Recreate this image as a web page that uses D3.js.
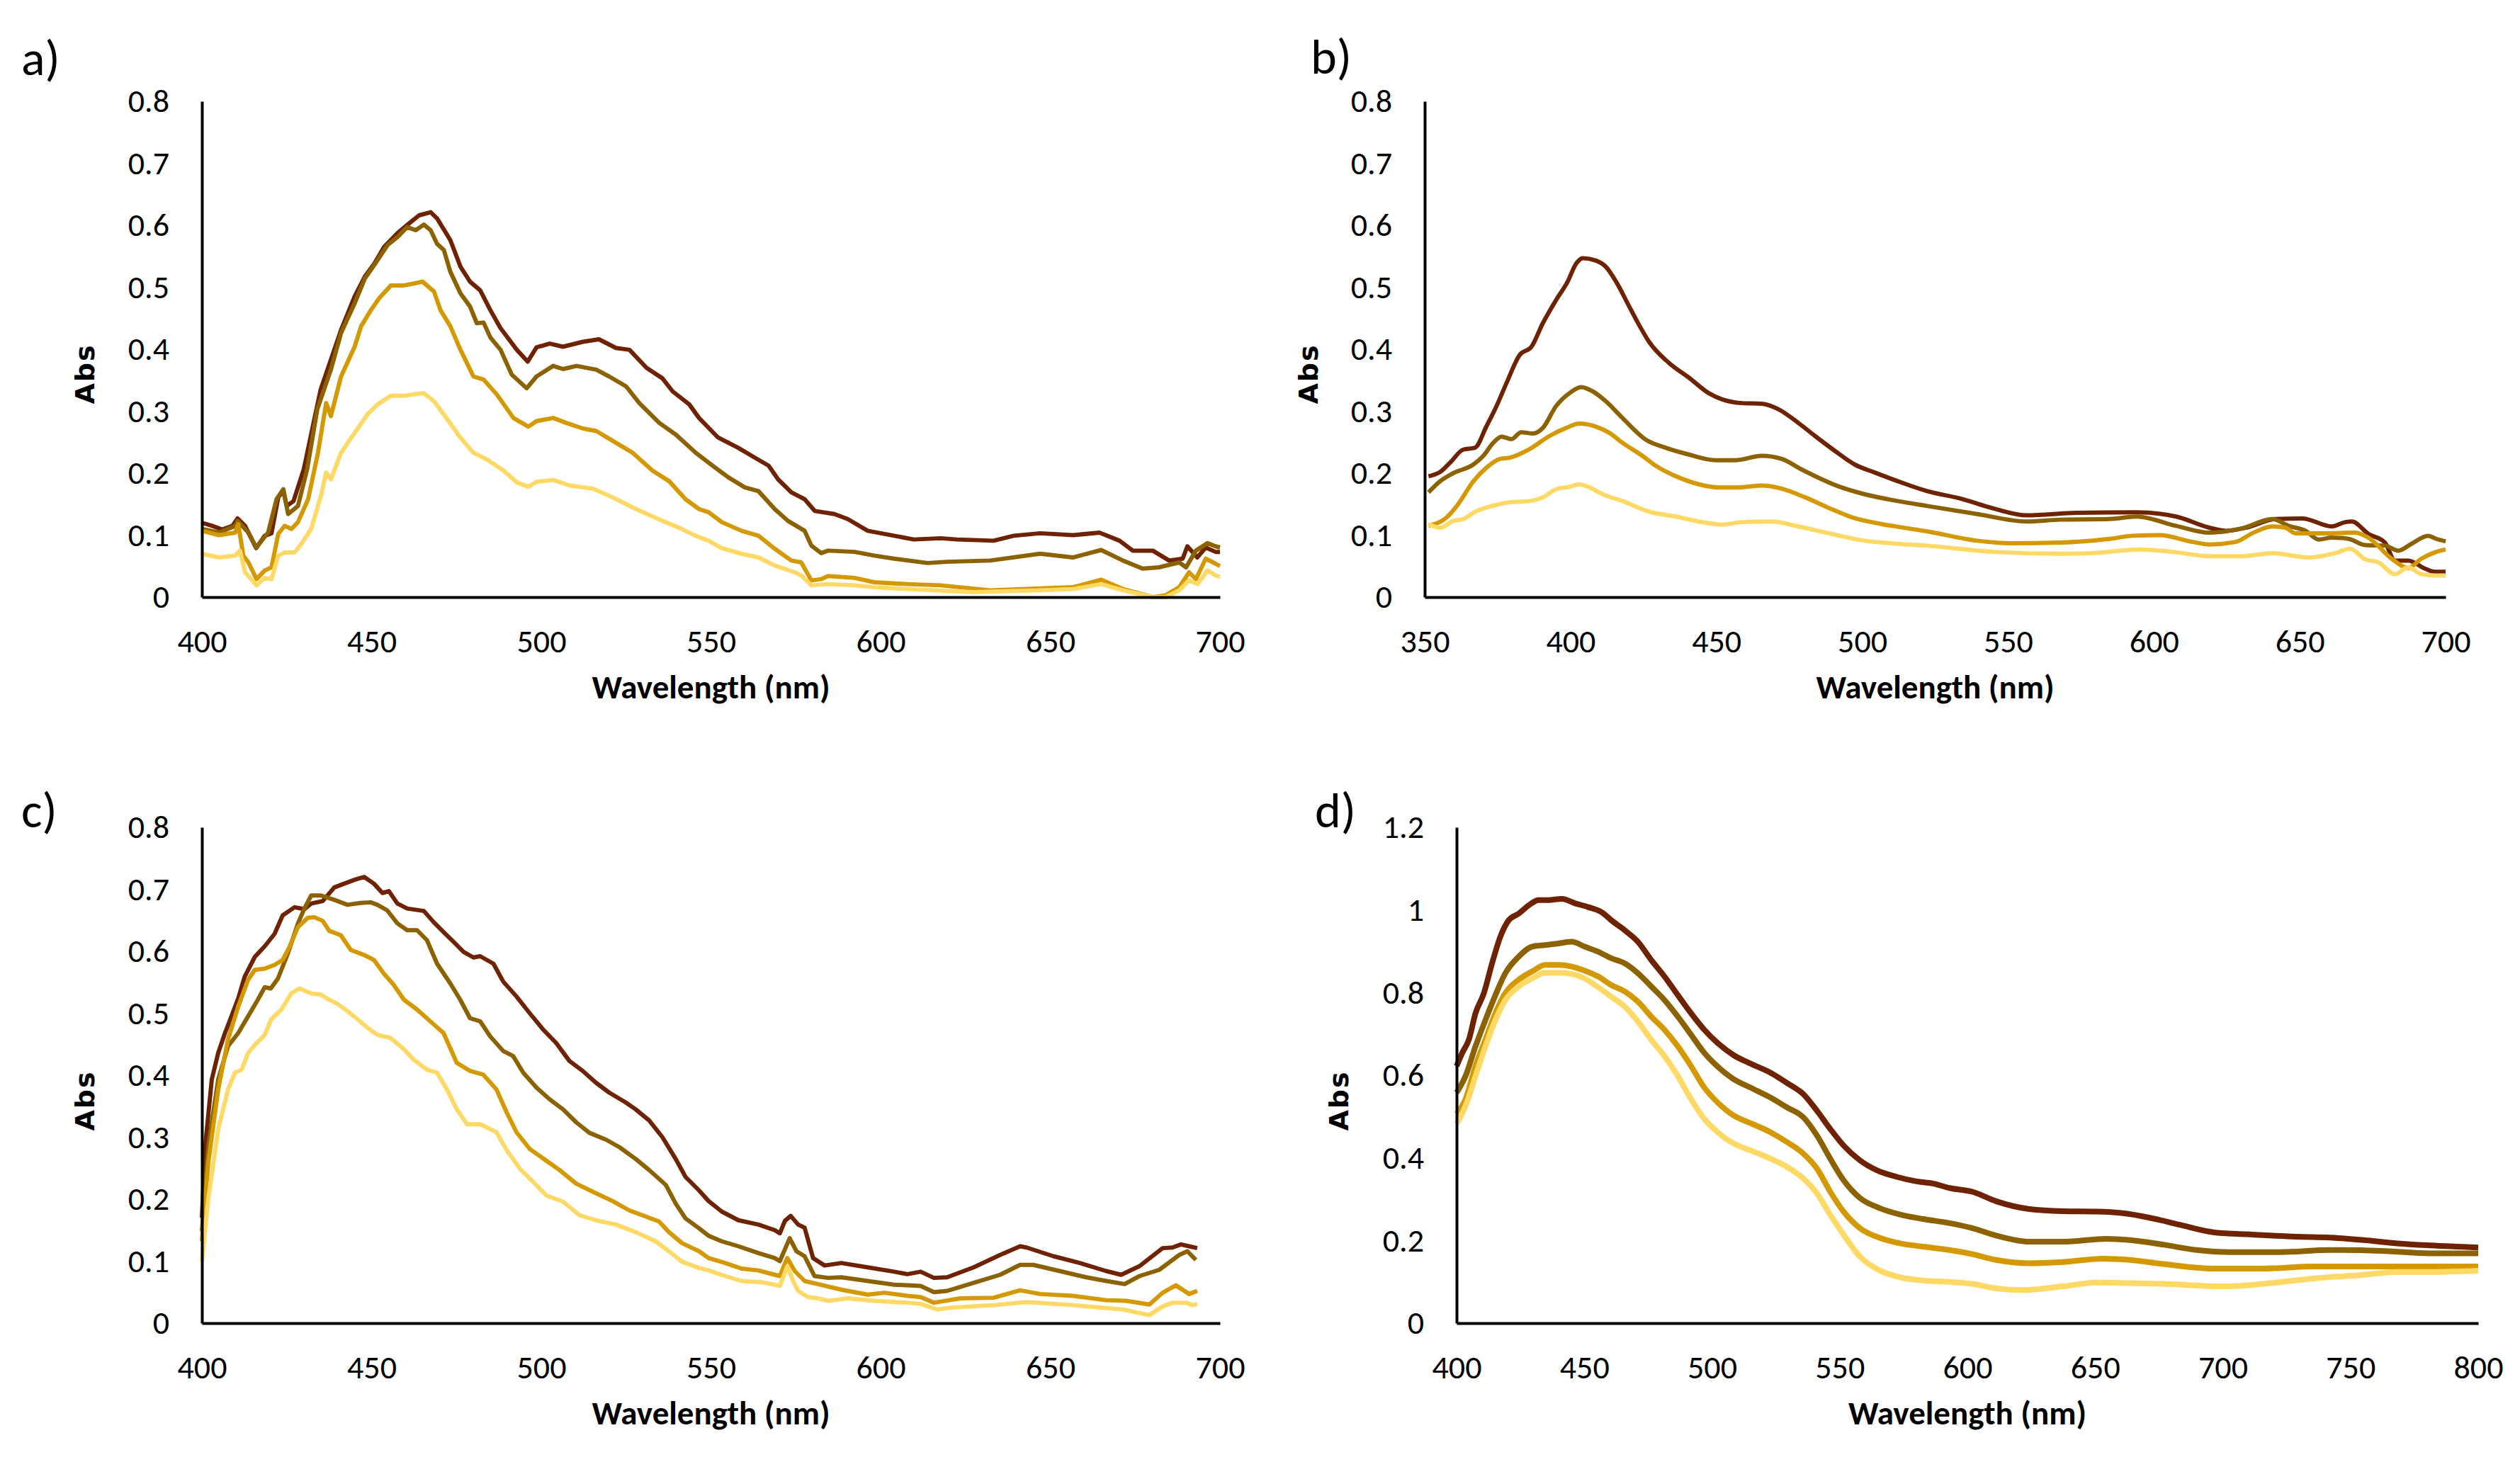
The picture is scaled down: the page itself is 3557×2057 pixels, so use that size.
<!DOCTYPE html>
<html><head><meta charset="utf-8">
<script src="https://cdn.jsdelivr.net/npm/d3@7"></script>
<style>html,body{margin:0;padding:0;background:#fff}</style>
</head><body><svg id="chart" width="3557" height="2057"></svg>
<script>
// ---- data (wavelength nm, absorbance) ----
const seriesColors = ["#6E2200", "#8C6200", "#D49800", "#FFD966"];

const xTicksA = [400, 450, 500, 550, 600, 650, 700];
const xTicksB = [350, 400, 450, 500, 550, 600, 650, 700];
const xTicksD = [400, 450, 500, 550, 600, 650, 700, 750, 800];
const yTicks08 = [0, 0.1, 0.2, 0.3, 0.4, 0.5, 0.6, 0.7, 0.8];
const yTicks12 = [0, 0.2, 0.4, 0.6, 0.8, 1, 1.2];
const panelLabels = ["a)", "b)", "c)", "d)"];
const xTitle = "Wavelength (nm)";
const yTitle = "Abs";

const a1 = [[400,0.12],[403,0.115],[406,0.109],[409,0.115],[410.5,0.127],[412.7,0.115],[416,0.079],[418.5,0.099],[420.5,0.103],[422.5,0.161],[424,0.171],[425,0.147],[427,0.155],[430,0.206],[432.7,0.276],[435,0.335],[438,0.383],[441,0.431],[445,0.485],[448,0.517],[450.8,0.538],[453.7,0.565],[457.6,0.587],[461.5,0.605],[464,0.616],[467.4,0.621],[469.3,0.611],[473.2,0.576],[476.2,0.533],[479,0.509],[482,0.495],[485,0.463],[488,0.434],[492.8,0.399],[496,0.38],[498.6,0.403],[502.5,0.409],[506.4,0.404],[512.3,0.412],[517,0.416],[522,0.402],[526,0.399],[531,0.37],[535.7,0.353],[538.7,0.332],[543.6,0.311],[546.5,0.289],[552,0.258],[558,0.241],[562,0.228],[567,0.212],[569.8,0.19],[573.7,0.169],[577.6,0.158],[580.6,0.139],[586.4,0.134],[590.3,0.126],[596.2,0.107],[604,0.099],[609.8,0.093],[617.7,0.095],[622.5,0.093],[633.3,0.091],[639.2,0.099],[647,0.103],[656.7,0.1],[664.5,0.104],[670.4,0.091],[674.3,0.075],[680.2,0.075],[685,0.059],[689,0.062],[690.4,0.082],[693.3,0.064],[695.8,0.08],[698.7,0.073],[700,0.073]];
const a2 = [[400,0.11],[405,0.104],[409.8,0.115],[410.5,0.123],[413.7,0.104],[416,0.08],[419.5,0.104],[422,0.158],[424,0.174],[425.4,0.134],[428.3,0.147],[431,0.206],[434,0.303],[438,0.367],[441,0.426],[445,0.474],[448,0.514],[450.8,0.536],[454.7,0.568],[457.6,0.581],[460.5,0.597],[463,0.592],[465.4,0.601],[467.4,0.592],[469.3,0.57],[471.3,0.56],[473.2,0.525],[476.2,0.49],[479,0.469],[481,0.442],[483,0.443],[485,0.419],[488,0.399],[491.3,0.359],[495.7,0.337],[498.6,0.356],[503.5,0.373],[506.4,0.368],[510.4,0.373],[516.2,0.367],[520,0.356],[525,0.34],[528.9,0.313],[534.8,0.281],[539.7,0.262],[545.5,0.233],[549.3,0.217],[555.2,0.193],[560,0.177],[564,0.171],[568.8,0.142],[572.7,0.123],[577.6,0.107],[579.6,0.083],[582.5,0.071],[584.5,0.075],[592.3,0.073],[598.1,0.067],[604,0.062],[613.8,0.055],[619.6,0.057],[632.3,0.059],[647,0.07],[656.7,0.064],[665,0.076],[671.4,0.059],[677.2,0.046],[682,0.048],[688,0.056],[690,0.048],[692.9,0.075],[696.3,0.087],[698.7,0.082],[700,0.08]];
const a3 = [[400,0.107],[405,0.1],[409.8,0.104],[410.7,0.118],[412.2,0.067],[413.7,0.056],[416.1,0.029],[418.5,0.043],[420.5,0.048],[422.5,0.102],[424.4,0.115],[426.4,0.11],[428.3,0.121],[431.3,0.158],[434.2,0.233],[436.6,0.313],[438,0.292],[441,0.356],[445,0.404],[446.9,0.437],[449.8,0.463],[452.2,0.482],[455.7,0.503],[459.6,0.503],[462.5,0.506],[465,0.509],[468.4,0.493],[470.3,0.463],[473.2,0.437],[476.2,0.399],[480,0.356],[483,0.351],[486.9,0.327],[491.8,0.289],[496.2,0.275],[498.6,0.284],[503.5,0.289],[507.4,0.281],[512.3,0.272],[516.2,0.268],[522,0.249],[526.9,0.233],[532.8,0.204],[537.7,0.187],[542.5,0.158],[546.5,0.142],[549.3,0.137],[553.2,0.121],[559,0.107],[564,0.099],[568.8,0.078],[573.7,0.059],[576.6,0.056],[579.6,0.027],[582.5,0.029],[584.5,0.034],[592.3,0.031],[598.1,0.024],[607.9,0.021],[617.7,0.019],[632.3,0.011],[647,0.014],[656.7,0.016],[665,0.028],[671.4,0.013],[680.2,0.0],[684,0.003],[688,0.016],[690.9,0.04],[692.9,0.029],[695.8,0.062],[698.7,0.054],[700,0.05]];
const a4 = [[400,0.07],[405,0.064],[409.8,0.067],[411.2,0.075],[412.7,0.04],[416.1,0.019],[418.5,0.031],[420.5,0.029],[422.5,0.067],[424.4,0.072],[427.3,0.072],[429.3,0.086],[432.2,0.11],[435.2,0.166],[436.6,0.201],[438,0.19],[441,0.233],[445,0.265],[448.8,0.295],[451.8,0.311],[455.7,0.325],[459.6,0.325],[463.5,0.328],[465.4,0.329],[468.4,0.316],[472.3,0.287],[476.2,0.257],[480,0.233],[484,0.222],[488.9,0.204],[492.8,0.185],[496.2,0.178],[498.6,0.186],[503.5,0.189],[508.4,0.18],[515.2,0.175],[521,0.161],[527.9,0.142],[535.7,0.123],[540.6,0.112],[545.5,0.099],[549.3,0.091],[553.2,0.079],[559,0.07],[564,0.064],[568.8,0.051],[574.7,0.04],[576.6,0.035],[579.6,0.019],[584.5,0.021],[592.3,0.019],[598.1,0.016],[607.9,0.013],[627.4,0.008],[647,0.011],[656.7,0.013],[665,0.021],[671.4,0.011],[680.2,0.0],[684,0.0],[688,0.011],[690.9,0.027],[693.4,0.021],[696.3,0.043],[698.7,0.035],[700,0.033]];

const b1 = [[351.3,0.195],[355.3,0.202],[358.7,0.217],[363.2,0.238],[367.2,0.241],[371.2,0.276],[374.6,0.308],[378,0.345],[382.6,0.391],[386.6,0.404],[390.5,0.442],[395,0.479],[399,0.509],[401.9,0.538],[404.2,0.547],[408.7,0.543],[412.1,0.533],[415.6,0.509],[420.1,0.469],[423.5,0.439],[426.9,0.412],[433.7,0.378],[440.6,0.354],[447.4,0.329],[452,0.319],[458.8,0.313],[465.6,0.312],[471.3,0.303],[478.1,0.281],[483.8,0.26],[490.6,0.236],[497.4,0.214],[504.3,0.201],[512.2,0.187],[522.3,0.171],[533.7,0.159],[545,0.143],[556.4,0.132],[573.5,0.136],[594,0.137],[607.6,0.13],[619,0.112],[624.6,0.107],[631.5,0.112],[641.7,0.126],[650.8,0.127],[661,0.114],[665.6,0.121],[667.9,0.122],[673.5,0.102],[679.2,0.088],[682.6,0.059],[687.2,0.059],[692.9,0.046],[696.3,0.041],[700,0.041]];
const b2 = [[351.3,0.169],[355.3,0.187],[359.8,0.2],[366.7,0.214],[370.1,0.228],[373.5,0.249],[376.3,0.259],[379.7,0.255],[383.1,0.266],[387.1,0.264],[390.5,0.273],[395,0.308],[399.6,0.329],[403.6,0.339],[407.6,0.332],[412.1,0.316],[417.8,0.289],[425.8,0.254],[432.6,0.241],[440.6,0.23],[449.7,0.221],[456.5,0.221],[465.6,0.228],[472.4,0.223],[479.2,0.206],[491.7,0.179],[500.8,0.166],[512.2,0.155],[522.3,0.147],[539.4,0.134],[556.4,0.122],[567.8,0.125],[584.8,0.126],[594,0.13],[607.6,0.115],[619,0.104],[630.3,0.111],[640.6,0.126],[646.2,0.115],[652,0.107],[656.5,0.093],[661,0.096],[666.7,0.094],[672.4,0.084],[679.2,0.083],[683.8,0.075],[688.3,0.086],[694,0.099],[696.8,0.094],[700,0.09]];
const b3 = [[351.3,0.115],[357.6,0.129],[361,0.147],[366.7,0.187],[371.2,0.209],[375.8,0.223],[379.2,0.225],[386,0.239],[392.8,0.26],[398.5,0.273],[403,0.28],[408.7,0.275],[413.3,0.265],[417.8,0.249],[424.6,0.228],[429.2,0.212],[437.1,0.193],[444,0.182],[450.8,0.177],[457.6,0.177],[465.6,0.18],[472.4,0.175],[480.4,0.161],[489.5,0.142],[496.3,0.129],[506.5,0.118],[515.6,0.111],[522.3,0.106],[539.4,0.091],[550.7,0.087],[567.8,0.088],[584.8,0.094],[592.8,0.099],[601.9,0.1],[613.3,0.089],[619,0.085],[628,0.089],[633.7,0.103],[640.6,0.114],[645.1,0.112],[648.5,0.103],[658.8,0.103],[669,0.104],[673.5,0.096],[681.5,0.062],[687.2,0.047],[691.7,0.062],[696.8,0.073],[700,0.077]];
const b4 = [[351.3,0.118],[355.3,0.112],[359.8,0.123],[363.2,0.126],[367.8,0.139],[372.3,0.146],[379.2,0.153],[386,0.155],[390.5,0.161],[395,0.174],[399.6,0.178],[403,0.182],[406.5,0.177],[411,0.166],[417.8,0.155],[426.9,0.138],[436,0.13],[445.1,0.121],[451.9,0.117],[458.8,0.121],[469,0.122],[478.1,0.114],[489.5,0.102],[500.8,0.091],[512.2,0.086],[522.3,0.083],[545,0.073],[567.8,0.07],[579.2,0.071],[595,0.077],[606.5,0.073],[619,0.066],[630.3,0.066],[640.6,0.071],[653.1,0.064],[662.2,0.071],[667.3,0.078],[672.4,0.061],[677,0.056],[682.6,0.037],[687.2,0.048],[691.7,0.037],[696.3,0.035],[700,0.035]];

const c1 = [[400,0.17],[401,0.287],[402.9,0.393],[404.8,0.436],[406.8,0.468],[408.7,0.495],[410.7,0.524],[412.6,0.559],[415.6,0.591],[418.5,0.608],[421.4,0.628],[423.8,0.658],[427.3,0.671],[430.2,0.668],[432.2,0.677],[435.6,0.681],[439,0.703],[441.9,0.709],[444.8,0.715],[447.8,0.72],[450.7,0.709],[453.2,0.694],[455.1,0.697],[457.6,0.677],[460.5,0.669],[465.4,0.665],[468.3,0.647],[471.2,0.631],[474.2,0.615],[477.1,0.599],[480,0.59],[482,0.592],[485.9,0.58],[488.8,0.551],[492.7,0.527],[496.6,0.5],[500.5,0.474],[504.4,0.452],[508.3,0.423],[512.2,0.407],[516.1,0.388],[520,0.372],[524.9,0.356],[527.8,0.345],[531.8,0.327],[535.7,0.3],[539.6,0.265],[542.5,0.236],[546.5,0.214],[549.3,0.197],[553.2,0.18],[558.1,0.166],[564,0.159],[568.8,0.15],[570.3,0.145],[571.8,0.165],[573.5,0.173],[575.7,0.159],[577.6,0.154],[580.1,0.105],[583.5,0.093],[588.4,0.097],[596.2,0.09],[604,0.083],[607.9,0.079],[611.8,0.083],[615.7,0.073],[619.6,0.074],[627.4,0.09],[635.2,0.11],[641.1,0.124],[643,0.122],[650.9,0.108],[658.7,0.097],[666.5,0.084],[670.9,0.078],[676.3,0.092],[683.1,0.121],[686,0.122],[688.5,0.127],[690.9,0.124],[693.3,0.121]];
const c2 = [[400,0.148],[401.9,0.287],[404.8,0.393],[407.7,0.447],[410.7,0.468],[413.6,0.495],[416.5,0.522],[418.5,0.542],[420.3,0.54],[422.4,0.556],[425.3,0.596],[428.3,0.645],[430.2,0.669],[432.2,0.69],[435.1,0.69],[439,0.683],[442.9,0.675],[446.8,0.678],[449.7,0.679],[451.7,0.675],[454.6,0.666],[457.6,0.645],[460.5,0.634],[463.4,0.634],[466.3,0.618],[469.3,0.58],[473.2,0.548],[476.1,0.522],[479,0.492],[482,0.487],[484.9,0.463],[488.8,0.439],[491.7,0.431],[494.7,0.404],[498.6,0.38],[502.5,0.361],[506.4,0.345],[510.3,0.324],[514.2,0.307],[519.1,0.296],[523,0.284],[527.8,0.265],[531.8,0.247],[536.7,0.223],[539.6,0.193],[542.5,0.169],[546.5,0.153],[549.3,0.141],[553.2,0.132],[558.1,0.124],[564,0.113],[568.8,0.105],[570.3,0.1],[573.2,0.137],[575.2,0.116],[577.6,0.108],[580.5,0.076],[584.5,0.073],[588.4,0.074],[596.2,0.068],[604,0.062],[611.8,0.06],[615.7,0.05],[619.6,0.052],[627.4,0.065],[635.2,0.078],[641.1,0.094],[645,0.094],[652.8,0.084],[660.6,0.074],[666.5,0.068],[671.9,0.063],[676.3,0.076],[682.1,0.086],[688,0.11],[690.4,0.116],[692.9,0.102]];
const c3 = [[400,0.132],[401.9,0.26],[404.8,0.377],[407.7,0.458],[410.7,0.511],[413.6,0.554],[415.6,0.57],[418.5,0.572],[421.4,0.578],[423.8,0.586],[425.8,0.607],[428.3,0.639],[431.2,0.654],[433.1,0.655],[435.6,0.649],[437.5,0.633],[440.9,0.626],[443.9,0.602],[447.8,0.594],[450.7,0.586],[453.6,0.564],[456.5,0.546],[459.5,0.522],[463.4,0.506],[467.3,0.487],[471.2,0.468],[475.1,0.42],[479,0.407],[482.9,0.401],[486.8,0.377],[489.8,0.34],[492.7,0.308],[496.6,0.281],[501.5,0.262],[505.4,0.247],[510.3,0.225],[515.2,0.212],[521,0.197],[525.9,0.182],[530.8,0.172],[534.7,0.164],[537.6,0.147],[541.5,0.129],[546.5,0.116],[549.3,0.105],[554.2,0.097],[559,0.088],[564,0.085],[568.8,0.078],[570.3,0.076],[572.5,0.105],[574.7,0.084],[577.6,0.068],[581.5,0.063],[588.4,0.054],[596.2,0.046],[601.1,0.049],[607.9,0.044],[611.8,0.042],[615.7,0.033],[623.5,0.04],[633.3,0.041],[641.1,0.053],[647,0.047],[656.7,0.044],[666.5,0.037],[672.4,0.036],[679.2,0.03],[683.1,0.049],[687,0.061],[690.9,0.047],[693.3,0.052]];
const c4 = [[400,0.1],[401.9,0.201],[404.8,0.313],[407.7,0.377],[409.7,0.404],[411.7,0.409],[413.6,0.436],[415.6,0.449],[418.5,0.465],[420.4,0.49],[423.4,0.506],[426.3,0.532],[428.7,0.54],[432.2,0.532],[435.1,0.53],[437.1,0.523],[440,0.515],[443,0.503],[445.9,0.49],[448.9,0.476],[451.8,0.465],[455.6,0.46],[459.5,0.442],[462.4,0.425],[466.3,0.409],[469.3,0.404],[472.2,0.377],[475.1,0.345],[478.1,0.321],[482,0.321],[486.8,0.308],[489.8,0.279],[493.7,0.249],[497.6,0.228],[501.5,0.206],[506.4,0.196],[511.3,0.174],[516.1,0.166],[522,0.159],[527.8,0.147],[533.7,0.132],[537.6,0.116],[541.5,0.099],[546.5,0.089],[549.3,0.085],[554.2,0.076],[559,0.068],[564.9,0.066],[568.8,0.062],[570.3,0.06],[572.5,0.092],[574.2,0.068],[575.7,0.052],[578.6,0.042],[581.5,0.04],[584.5,0.036],[590.3,0.04],[598.1,0.036],[607.9,0.033],[611.8,0.031],[616.7,0.022],[620.6,0.025],[633.3,0.029],[643,0.034],[656.7,0.029],[671.4,0.022],[679.2,0.013],[683.1,0.027],[686,0.033],[690,0.033],[691.9,0.029],[693.3,0.031]];

const d1 = [[400,0.622],[402.2,0.654],[404.8,0.686],[407.4,0.75],[410.7,0.799],[413.9,0.871],[417.1,0.935],[420.4,0.975],[424.3,0.991],[428.2,1.011],[432.1,1.024],[436,1.024],[441.2,1.027],[446.4,1.016],[451.5,1.007],[456.7,0.995],[460.6,0.975],[465.8,0.951],[471,0.923],[476.2,0.879],[481.4,0.839],[486.6,0.794],[491.8,0.75],[497,0.71],[502.2,0.678],[508.6,0.648],[515.1,0.628],[522.9,0.606],[529.4,0.581],[535.8,0.554],[541.1,0.514],[546.3,0.47],[551.5,0.43],[557.9,0.394],[564.5,0.37],[572.3,0.354],[580.1,0.343],[586.5,0.338],[593,0.327],[601.9,0.318],[611.2,0.295],[624.3,0.276],[637.4,0.271],[650.5,0.27],[660.9,0.266],[671.4,0.255],[683.2,0.238],[696.3,0.22],[709.4,0.215],[729,0.209],[742.1,0.207],[755.2,0.201],[768.3,0.193],[781.4,0.188],[800,0.183]];
const d2 = [[400,0.558],[403.5,0.598],[407.4,0.67],[411.3,0.734],[415.2,0.794],[419.1,0.847],[424.3,0.887],[429.5,0.911],[434.7,0.915],[439.9,0.919],[445.1,0.923],[450.2,0.911],[455.4,0.899],[460.6,0.883],[465.8,0.871],[471,0.847],[476.2,0.815],[481.4,0.782],[486.6,0.742],[491.8,0.698],[497,0.654],[502.2,0.621],[508.6,0.59],[515.1,0.57],[522.9,0.546],[529.4,0.522],[535.8,0.498],[541.1,0.454],[546.3,0.398],[551.5,0.346],[557.9,0.303],[565.8,0.278],[573.6,0.263],[582.7,0.252],[593,0.242],[601.9,0.23],[611.2,0.212],[624.3,0.197],[637.4,0.197],[654.4,0.204],[663.6,0.201],[676.6,0.19],[689.7,0.177],[702.8,0.172],[722.5,0.172],[742.1,0.177],[761.7,0.175],[781.4,0.169],[800,0.169]];
const d3s = [[400,0.506],[403.5,0.542],[407.4,0.622],[411.3,0.686],[415.2,0.75],[419.1,0.799],[424.3,0.831],[429.5,0.851],[434.7,0.867],[439.9,0.867],[445.1,0.863],[450.2,0.853],[455.4,0.839],[460.6,0.818],[465.8,0.803],[471,0.778],[476.2,0.742],[481.4,0.71],[486.6,0.67],[491.8,0.622],[497,0.57],[502.2,0.534],[508.6,0.502],[515.1,0.484],[522.9,0.462],[529.4,0.438],[535.8,0.41],[541.1,0.374],[546.3,0.318],[551.5,0.27],[557.9,0.23],[565.8,0.206],[573.6,0.193],[582.7,0.185],[593,0.177],[601.9,0.167],[611.2,0.153],[624.3,0.145],[637.4,0.148],[653.1,0.156],[663.6,0.153],[676.6,0.143],[696.3,0.132],[715.9,0.132],[735.5,0.137],[755.2,0.137],[774.8,0.137],[800,0.137]];
const d4 = [[400,0.482],[403.5,0.526],[407.4,0.598],[411.3,0.67],[415.2,0.734],[419.1,0.782],[424.3,0.815],[429.5,0.834],[434.7,0.848],[439.9,0.848],[445.1,0.845],[450.2,0.834],[455.4,0.813],[460.6,0.79],[465.8,0.766],[471,0.73],[476.2,0.686],[481.4,0.646],[486.6,0.598],[491.8,0.542],[497,0.494],[502.2,0.462],[508.6,0.434],[515.1,0.418],[522.9,0.398],[529.4,0.378],[535.8,0.35],[541.1,0.314],[546.3,0.262],[551.5,0.214],[557.9,0.161],[565.8,0.127],[573.6,0.111],[582.7,0.103],[593,0.1],[601.9,0.095],[611.2,0.084],[621.7,0.08],[637.4,0.089],[650.5,0.098],[663.6,0.097],[676.6,0.095],[700.2,0.089],[715.9,0.095],[735.5,0.108],[755.2,0.117],[768.3,0.124],[781.4,0.124],[800,0.127]];

// ---- layout ----
const panels = [
  {label: panelLabels[0], series: [a1, a2, a3, a4], xDomain: [400, 700], yDomain: [0, 0.8], xTicks: xTicksA, yTicks: yTicks08,
   box: {l: 285, r: 1722, t: 143, b: 843}, labelXY: [30, 106], absXY: [120, 528], curve: d3.curveLinear, sw: 6},
  {label: panelLabels[1], series: [b1, b2, b3, b4], xDomain: [350, 700], yDomain: [0, 0.8], xTicks: xTicksB, yTicks: yTicks08,
   box: {l: 2011, r: 3452, t: 143, b: 843}, labelXY: [1850, 104], absXY: [1847, 528], curve: d3.curveMonotoneX, sw: 6},
  {label: panelLabels[2], series: [c1, c2, c3, c4], xDomain: [400, 700], yDomain: [0, 0.8], xTicks: xTicksA, yTicks: yTicks08,
   box: {l: 285, r: 1722, t: 1168, b: 1868}, labelXY: [30, 1168], absXY: [120, 1554], curve: d3.curveLinear, sw: 6},
  {label: panelLabels[3], series: [d1, d2, d3s, d4], xDomain: [400, 800], yDomain: [0, 1.2], xTicks: xTicksD, yTicks: yTicks12,
   box: {l: 2056, r: 3498, t: 1168, b: 1868}, labelXY: [1856, 1168], absXY: [1890, 1554], curve: d3.curveMonotoneX, sw: 8}
];

const svg = d3.select("#chart");
svg.append("rect").attr("width", 3557).attr("height", 2057).attr("fill", "#fff");
const tickFont = "Carlito, Calibri, 'Liberation Sans', Arial, sans-serif";
const fmt = v => String(+v.toFixed(1));

panels.forEach(p => {
  const x = d3.scaleLinear().domain(p.xDomain).range([p.box.l, p.box.r]);
  const y = d3.scaleLinear().domain(p.yDomain).range([p.box.b, p.box.t]);
  const g = svg.append("g");

  const line = d3.line().x(d => x(d[0])).y(d => y(d[1])).curve(p.curve);
  p.series.forEach((s, i) => {
    g.append("path").datum(s).attr("d", line)
      .attr("fill", "none").attr("stroke", seriesColors[i])
      .attr("stroke-width", p.sw).attr("stroke-linejoin", "round").attr("stroke-linecap", "butt");
  });

  const yAx = g.append("g").attr("transform", `translate(${p.box.l},0)`)
    .call(d3.axisLeft(y).tickValues(p.yTicks).tickFormat(fmt).tickSize(0).tickSizeOuter(0).tickPadding(46));
  const xAx = g.append("g").attr("transform", `translate(0,${p.box.b})`)
    .call(d3.axisBottom(x).tickValues(p.xTicks).tickFormat(d3.format("d")).tickSize(0).tickSizeOuter(0).tickPadding(45));
  [yAx, xAx].forEach(a => {
    a.select(".domain").attr("stroke", "#000").attr("stroke-width", 4);
    a.selectAll("text").attr("font-family", tickFont).attr("font-size", 46).attr("fill", "#000");
  });

  g.append("text").attr("x", (p.box.l + p.box.r) / 2).attr("y", p.box.b + 143)
    .attr("text-anchor", "middle").attr("font-family", tickFont).attr("font-weight", "bold")
    .attr("font-size", 47).attr("fill", "#000").text(xTitle);
  g.append("text").attr("transform", `translate(${p.absXY[0]},${p.absXY[1]}) rotate(-90)`)
    .attr("text-anchor", "middle").attr("dominant-baseline", "central")
    .attr("font-family", "'DejaVu Sans', Verdana, sans-serif").attr("font-weight", "bold")
    .attr("font-size", 38).attr("letter-spacing", 2).attr("fill", "#000").text(yTitle);
  g.append("text").attr("x", p.labelXY[0]).attr("y", p.labelXY[1])
    .attr("font-family", tickFont).attr("font-size", 70).attr("fill", "#000").text(p.label);
});
</script>
</body></html>
